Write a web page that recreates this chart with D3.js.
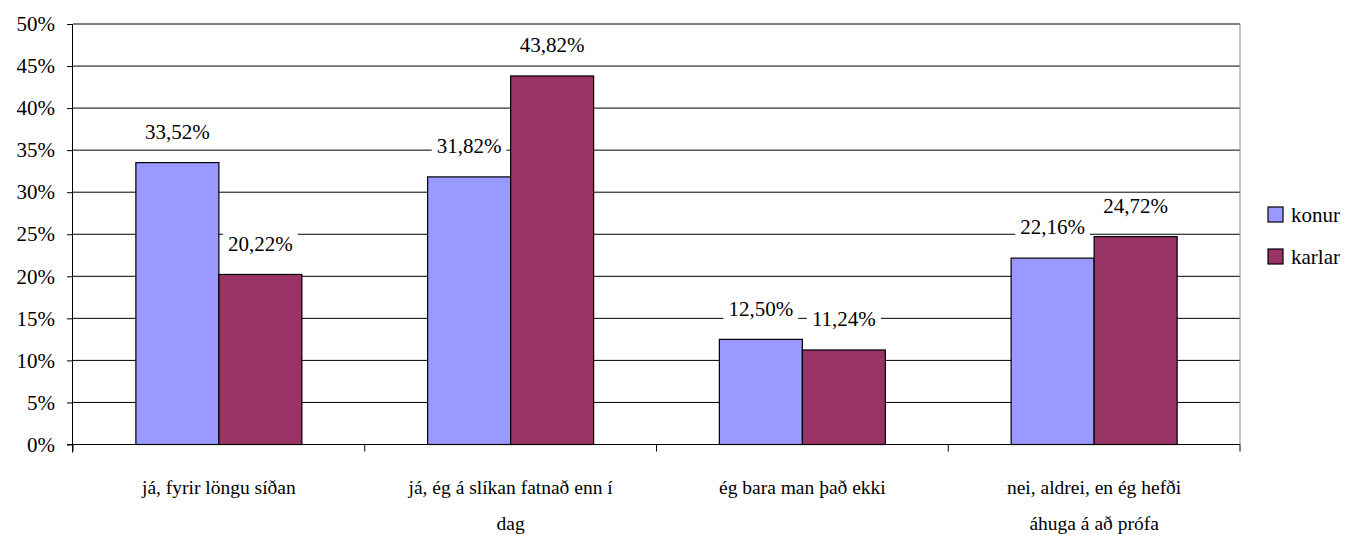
<!DOCTYPE html>
<html>
<head>
<meta charset="utf-8">
<script src="https://cdn.jsdelivr.net/npm/d3@7"></script>
<style>
    body { margin: 0; background: #fff; }
</style>
</head>
<body>
<div id="chart"></div>
<script>
// data
const categories = [
    "já, fyrir löngu síðan",
    "já, ég á slíkan fatnað enn í\ndag",
    "ég bara man það ekki",
    "nei, aldrei, en ég hefði\náhuga á að prófa"
];
const seriesNames = ["konur", "karlar"];
const konur = [33.52, 31.82, 12.50, 22.16];
const karlar = [20.22, 43.82, 11.24, 24.72];
const colors = ["#9999FF", "#993366"];
const yTicks = [0, 5, 10, 15, 20, 25, 30, 35, 40, 45, 50];

const FONT = "'Liberation Serif', Tinos, 'Noto Serif', 'DejaVu Serif', 'Times New Roman', Times, serif";
const FS = "21px";

// dimensions
const margin = { top: 24, right: 114, bottom: 90.5, left: 73 },
    width = 1354 - margin.left - margin.right,
    height = 535 - margin.top - margin.bottom;

const svg = d3.select("#chart").append("svg")
    .attr("width", 1354)
    .attr("height", 535)
    .attr("font-family", FONT)
    .append("g")
    .attr("transform", "translate(" + margin.left + "," + margin.top + ")");

const x0 = d3.scaleBand().domain(categories).range([0, width]);
const x1 = d3.scaleBand().domain(seriesNames).range([0, 166]);
const y = d3.scaleLinear().domain([0, 50]).range([height, 0]);

const fmt = v => d3.format(".2f")(v).replace(".", ",") + "%";

// gridlines
svg.append("g")
    .selectAll("line")
    .data(yTicks.slice(1))
    .enter().append("line")
    .attr("x1", 0).attr("x2", width)
    .attr("y1", d => y(d)).attr("y2", d => y(d))
    .attr("stroke", "#000");

// right border of plot area
svg.append("line")
    .attr("x1", width).attr("x2", width)
    .attr("y1", 0).attr("y2", height)
    .attr("stroke", "#888");

// bars
const data = categories.map((c, i) => ({ cat: c, vals: [konur[i], karlar[i]] }));
const groups = svg.selectAll(".grp")
    .data(data)
    .enter().append("g")
    .attr("transform", d => "translate(" + (x0(d.cat) + (x0.bandwidth() - 166) / 2) + ",0)");

groups.selectAll("rect")
    .data(d => d.vals.map((v, j) => ({ name: seriesNames[j], v: v, j: j })))
    .enter().append("rect")
    .attr("x", d => x1(d.name))
    .attr("y", d => y(d.v))
    .attr("width", x1.bandwidth())
    .attr("height", d => height - y(d.v))
    .attr("fill", d => colors[d.j])
    .attr("stroke", "#000")
    .attr("stroke-width", 1.2);

// value labels with white boxes
groups.each(function (d) {
    const g = d3.select(this);
    d.vals.forEach((v, j) => {
        const cx = x1(seriesNames[j]) + x1.bandwidth() / 2;
        const cy = y(v) - 31;
        const lbl = g.append("g");
        const t = lbl.append("text")
            .attr("x", cx)
            .attr("y", cy)
            .attr("dy", "0.35em")
            .attr("text-anchor", "middle")
            .style("font-family", FONT)
            .style("font-size", FS)
            .text(fmt(v));
        const bb = t.node().getBBox();
        lbl.insert("rect", "text")
            .attr("x", bb.x - 5)
            .attr("y", cy - 12)
            .attr("width", bb.width + 10)
            .attr("height", 24)
            .attr("fill", "#fff");
    });
});

// y axis
const yAxis = svg.append("g")
    .call(d3.axisLeft(y).tickValues(yTicks).tickFormat(d => d + "%").tickSize(6).tickPadding(12));
yAxis.attr("font-family", FONT);
yAxis.select(".domain").attr("d", "M-0.5," + (height + 8) + "V0").attr("stroke", "#000");
yAxis.selectAll("text").style("font-size", FS).style("font-family", FONT).attr("fill", "#000");

// x axis
const xAxis = svg.append("g")
    .attr("transform", "translate(0," + height + ")");
xAxis.append("line")
    .attr("x1", -6).attr("x2", width)
    .attr("stroke", "#000");
xAxis.selectAll(".tk")
    .data(d3.range(categories.length + 1))
    .enter().append("line")
    .attr("x1", i => i * x0.step()).attr("x2", i => i * x0.step())
    .attr("y1", 0).attr("y2", 7)
    .attr("stroke", "#000");
xAxis.selectAll(".cl")
    .data(categories)
    .enter().append("text")
    .attr("text-anchor", "middle")
    .attr("x", d => x0(d) + x0.bandwidth() / 2)
    .attr("y", 49)
    .style("font-family", FONT)
    .style("font-size", "19.5px")
    .each(function (d) {
        const lines = d.split("\n");
        lines.forEach((ln, k) => {
            d3.select(this).append("tspan")
                .attr("x", x0(d) + x0.bandwidth() / 2)
                .attr("dy", k === 0 ? 0 : 36)
                .text(ln);
        });
    });

// legend
const legend = svg.append("g")
    .attr("transform", "translate(" + (width + 28) + ",0)");
seriesNames.forEach((s, i) => {
    const ly = 191 + i * 42;
    legend.append("rect")
        .attr("x", 0).attr("y", ly - 8)
        .attr("width", 15).attr("height", 15)
        .attr("fill", colors[i])
        .attr("stroke", "#000")
        .attr("stroke-width", 1.2);
    legend.append("text")
        .attr("x", 23).attr("y", ly)
        .attr("dy", "0.35em")
        .style("font-family", FONT)
        .style("font-size", FS)
        .text(s);
});
</script>
</body>
</html>
